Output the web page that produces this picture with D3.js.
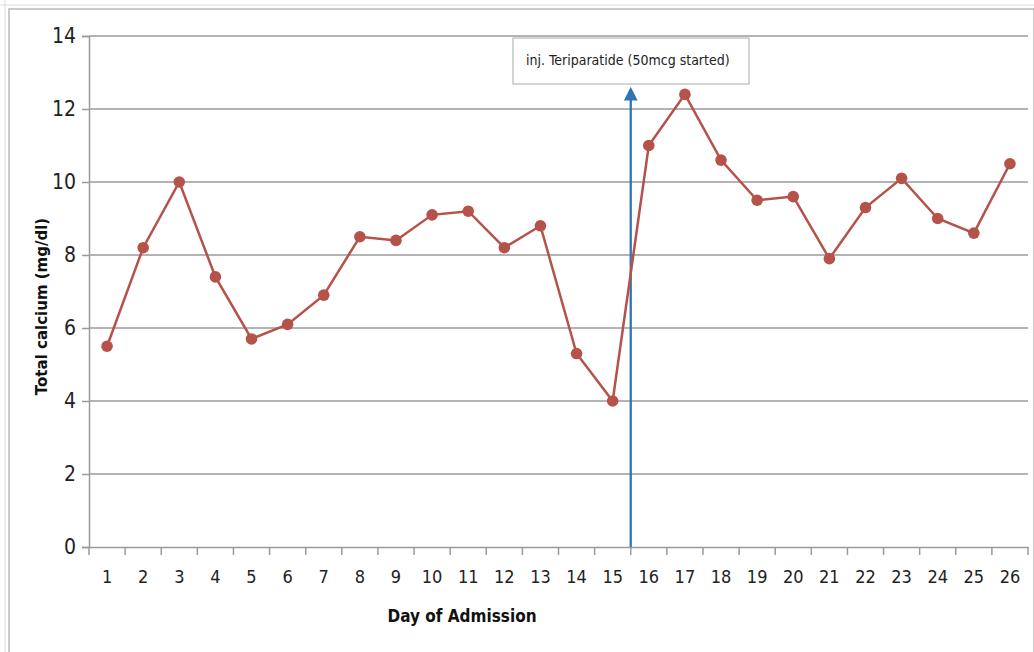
<html>
 <head>
  <title>Total calcium</title>
  <script src="https://cdn.jsdelivr.net/npm/d3@7"></script>
  <style>
    body { margin: 0; background: #fff; }
    .tick text { font-family: "Liberation Sans Narrow", "DejaVu Sans Condensed", sans-serif; fill: #222; }
  </style>
 </head>
 <body>
 <div id="draw"></div>
 <script>
    // days and total calcium values (mg/dl)
    var days = [1,2,3,4,5,6,7,8,9,10,11,12,13,14,15,16,17,18,19,20,21,22,23,24,25,26];
    var calcium = [5.5,8.2,10.0,7.4,5.7,6.1,6.9,8.5,8.4,9.1,9.2,8.2,8.8,5.3,4.0,11.0,12.4,10.6,9.5,9.6,7.9,9.3,10.1,9.0,8.6,10.5];
    var yTicks = [0,2,4,6,8,10,12,14];
    var noteText = "inj. Teriparatide (50mcg started)";
    var noteAfterDay = 15;

    var w = 1034, h = 652;
    var mLeft = 89, mRight = 1028, mTop = 36, mBottom = 547;

    var svg = d3.select('#draw').append('svg').attr('width', w).attr('height', h);

    // outer frame (spreadsheet chart border)
    svg.append('rect').attr('x', 9).attr('y', 9).attr('width', w - 9).attr('height', h)
      .attr('fill', 'none').attr('stroke', '#bbb').attr('stroke-width', 1.5);
    svg.append('line').attr('x1', 0).attr('x2', w).attr('y1', 5).attr('y2', 5)
      .attr('stroke', '#ddd');
    svg.append('line').attr('x1', 5).attr('x2', 5).attr('y1', 0).attr('y2', h)
      .attr('stroke', '#ddd');

    var x = d3.scaleBand().domain(days).range([mLeft, mRight]).padding(0);
    var y = d3.scaleLinear().domain([0, 14]).range([mBottom, mTop]);

    // horizontal gridlines
    svg.append('g').selectAll('line').data(yTicks.slice(1)).enter().append('line')
      .attr('x1', mLeft).attr('x2', mRight)
      .attr('y1', function(d) { return y(d); }).attr('y2', function(d) { return y(d); })
      .attr('stroke', '#9a9a9a').attr('stroke-width', 1.5);

    // y axis
    var ya = svg.append('g').attr('transform', 'translate(' + mLeft + ',0)')
      .call(d3.axisLeft(y).tickValues(yTicks).tickSize(7).tickPadding(6));
    ya.select('.domain').attr('stroke', '#9a9a9a').attr('stroke-width', 1.5);
    ya.selectAll('.tick line').attr('stroke', '#9a9a9a').attr('stroke-width', 1.5);
    ya.selectAll('.tick text').attr('font-size', 21);

    // x axis, ticks between categories
    var xa = svg.append('g').attr('transform', 'translate(0,' + mBottom + ')')
      .call(d3.axisBottom(x).tickSize(0).tickPadding(23));
    xa.select('.domain').attr('stroke', '#9a9a9a').attr('stroke-width', 1.5);
    xa.selectAll('.tick text').attr('font-size', 18);
    svg.append('g').selectAll('line').data(days.concat([days.length + 1])).enter().append('line')
      .attr('x1', function(d) { return mLeft + (d - 1) * x.step(); })
      .attr('x2', function(d) { return mLeft + (d - 1) * x.step(); })
      .attr('y1', mBottom).attr('y2', mBottom + 8)
      .attr('stroke', '#9a9a9a').attr('stroke-width', 1.5);

    // axis titles
    svg.append('text').attr('transform', 'translate(47,' + ((mTop + mBottom) / 2 + 15) + ') rotate(-90)')
      .attr('text-anchor', 'middle')
      .style('font-family', '"DejaVu Sans", Verdana, sans-serif').style('font-weight', 'bold')
      .style('font-size', '15px').attr('fill', '#111')
      .text('Total calcium (mg/dl)');
    svg.append('text').attr('x', 462).attr('y', 622).attr('text-anchor', 'middle')
      .style('font-family', '"Liberation Sans Narrow", "DejaVu Sans Condensed", sans-serif').style('font-weight', 'bold')
      .style('font-size', '17px').attr('fill', '#111')
      .text('Day of Admission');

    // annotation arrow
    svg.append('defs').append('marker')
      .attr('id', 'arrowhead').attr('refX', 2).attr('refY', 3)
      .attr('markerWidth', 6).attr('markerHeight', 6).attr('orient', 'auto')
      .append('path').attr('d', 'M 0,0 L 6,3 L 0,6 Z').attr('fill', '#2e75b6');
    var ax = mLeft + noteAfterDay * x.step();
    svg.append('line').attr('x1', ax).attr('x2', ax).attr('y1', mBottom).attr('y2', 96)
      .attr('stroke', '#2e75b6').attr('stroke-width', 2.3).attr('marker-end', 'url(#arrowhead)');

    // annotation box
    svg.append('rect').attr('x', 513).attr('y', 38).attr('width', 236).attr('height', 46)
      .attr('fill', '#fff').attr('stroke', '#aaa').attr('stroke-width', 1);
    svg.append('text').attr('x', 526).attr('y', 65)
      .style('font-family', '"Liberation Sans Narrow", "DejaVu Sans Condensed", sans-serif')
      .style('font-size', '14px').attr('fill', '#222').text(noteText);

    // series line and markers
    var line = d3.line()
      .x(function(d, i) { return x(days[i]) + x.bandwidth() / 2; })
      .y(function(d) { return y(d); });
    svg.append('path').datum(calcium).attr('d', line)
      .attr('fill', 'none').attr('stroke', '#b5524a').attr('stroke-width', 2.5);
    svg.append('g').selectAll('circle').data(calcium).enter().append('circle')
      .attr('cx', function(d, i) { return x(days[i]) + x.bandwidth() / 2; })
      .attr('cy', function(d) { return y(d); })
      .attr('r', 5.8).attr('fill', '#b5524a');
 </script>
 </body>
</html>
